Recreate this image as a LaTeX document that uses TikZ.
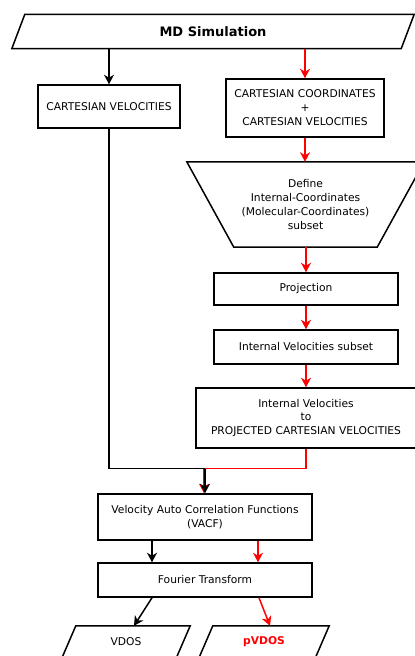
\documentclass[tikz,border=0pt]{standalone}
\usepackage{fontspec}
\setmainfont{DejaVu Sans}
\usetikzlibrary{arrows.meta,calc}
\begin{document}
\begin{tikzpicture}[x=1pt,y=-1pt,
  every node/.style={font=\fontsize{10.7}{14}\selectfont, align=center, inner sep=0pt},
  box/.style={draw, line width=1.5pt, rectangle},
  ghost/.style={rectangle},
  ln/.style={line width=1.5pt},
  arr/.style={line width=1.5pt, -{Stealth[length=9.5pt,width=10pt,inset=3pt]}},
  redarr/.style={arr, red},
]
\useasboundingbox (0,0) rectangle (415,656);
\begin{scope}
\clip (0,0) rectangle (415,656);
% MD Simulation parallelogram
\node[ghost, minimum width=402pt, minimum height=34pt] (md) at (213,31.5) {\fontsize{13}{14}\selectfont\bfseries MD Simulation};
\draw[ln] (md.south west) -- ([xshift=13pt]md.north west) -- (md.north east) -- ([xshift=-13pt]md.south east) -- cycle;
% boxes
\node[box, minimum width=142pt, minimum height=43pt] (cv) at (109,106.5) {CARTESIAN VELOCITIES};
\node[box, minimum width=158pt, minimum height=58pt] (cc) at (305,108) {CARTESIAN COORDINATES\\+\\CARTESIAN VELOCITIES};
% trapezoid
\node[ghost, minimum width=237pt, minimum height=85pt] (def) at (305.5,204.5) {Define\\Internal-Coordinates\\(Molecular-Coordinates)\\subset};
\draw[ln] (def.north west) -- (def.north east) -- ([xshift=-47pt]def.south east) -- ([xshift=47pt]def.south west) -- cycle;
\node[box, minimum width=184pt, minimum height=32pt] (proj) at (306,289) {Projection};
\node[box, minimum width=184pt, minimum height=34pt] (ivs) at (306,347) {Internal Velocities subset};
\node[box, minimum width=220pt, minimum height=60pt] (ipc) at (306,418) {Internal Velocities\\to\\PROJECTED CARTESIAN VELOCITIES};
\node[box, minimum width=214pt, minimum height=46pt] (vacf) at (205,517) {Velocity Auto Correlation Functions\\(VACF)};
\node[box, minimum width=214pt, minimum height=34pt] (ft) at (205,580) {Fourier Transform};
% output parallelograms
\node[ghost, minimum width=128pt, minimum height=32pt] (vdos) at (126,642) {VDOS};
\draw[ln] (vdos.south west) -- ([xshift=14pt]vdos.north west) -- (vdos.north east) -- ([xshift=-14pt]vdos.south east) -- cycle;
\node[ghost, minimum width=130pt, minimum height=32pt, text=red, font=\fontsize{10.7}{14}\selectfont\bfseries] (pvdos) at (264,642) {pVDOS};
\draw[ln] (pvdos.south west) -- ([xshift=14pt]pvdos.north west) -- (pvdos.north east) -- ([xshift=-14pt]pvdos.south east) -- cycle;
% connectors
\draw[arr] (cv.north |- md.south) -- (cv.north);
\draw[redarr] (cc.north |- md.south) -- (cc.north);
\draw[redarr] (cc.south) -- (cc.south |- def.north);
\draw[redarr] (proj.north |- def.south) -- (proj.north);
\draw[redarr] (proj.south) -- (ivs.north);
\draw[redarr] (ivs.south) -- (ipc.north);
\coordinate (j) at (205,468.5);
\coordinate (jr) at (204,468.5);
\draw[ln, red] (ipc.south) |- (j);
\draw[redarr] (jr) -- (jr |- vacf.north);
\draw[ln] (cv.south) |- (j);
\draw[arr] (j) -- (vacf.north);
\draw[arr] ([xshift=-53pt]vacf.south) -- ([xshift=-53pt]ft.north);
\draw[redarr] ([xshift=53pt]vacf.south) -- ([xshift=53pt]ft.north);
\draw[arr] ([xshift=-53pt]ft.south) -- ([xshift=8pt]vdos.north);
\draw[redarr] ([xshift=54pt]ft.south) -- ([xshift=6pt]pvdos.north);
\end{scope}
\end{tikzpicture}
\end{document}
